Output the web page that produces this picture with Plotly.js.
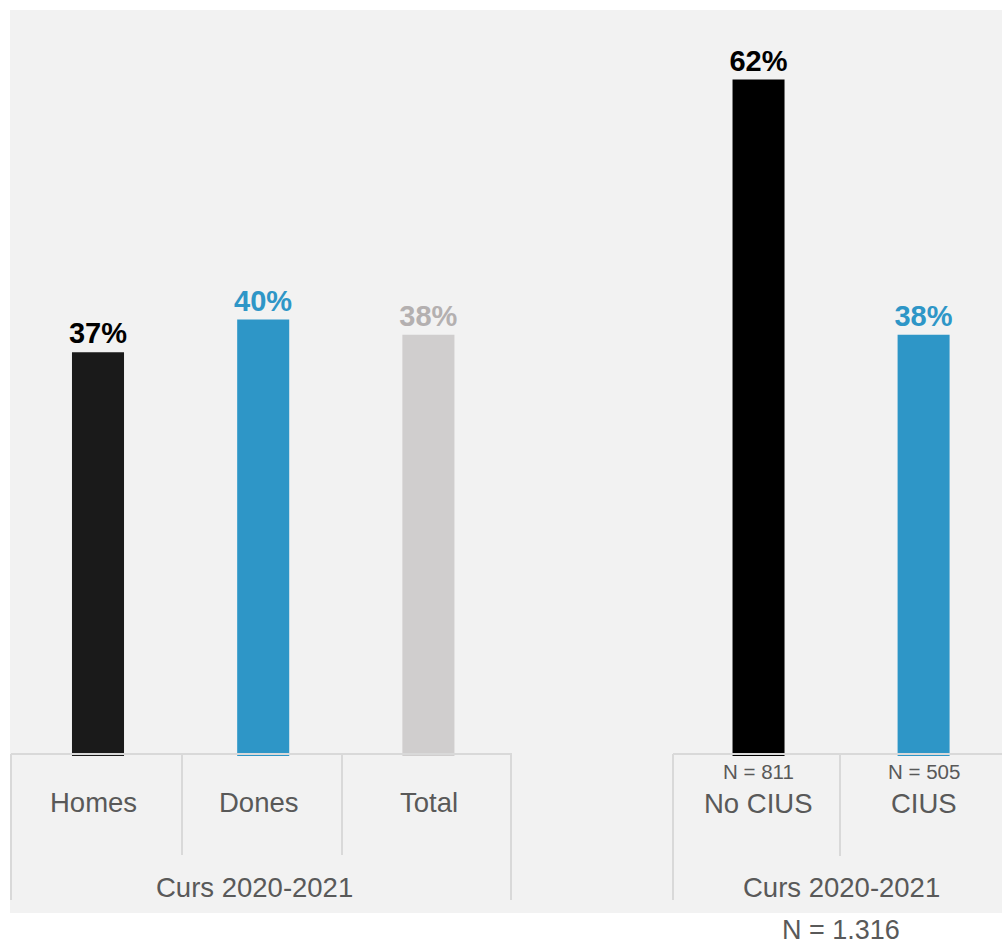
<!DOCTYPE html>
<html>
<head>
<meta charset="utf-8">
<script src="https://cdn.plot.ly/plotly-3.0.1.min.js"></script>
<style>
  html, body { margin: 0; padding: 0; background: #ffffff; }
  #chart { width: 1002px; height: 944px; }
</style>
</head>
<body>
<div id="chart"></div>
<script>
// ---- data ----
const categoriesLeft = ["Homes", "Dones", "Total"];
const valuesLeft = [37, 40, 38.6];
const labelsLeft = ["37%", "40%", "38%"];

const categoriesRight = ["No CIUS", "CIUS"];
const valuesRight = [62, 38.6];
const labelsRight = ["62%", "38%"];
const sampleRight = ["N = 811", "N = 505"];

const groupLabel = "Curs 2020-2021";
const totalN = "N = 1.316";

// ---- styles ----
const barColorsLeft = ["#1a1a1a", "#2e96c7", "#d0cece"];
const textColorsLeft = ["#000000", "#2e96c7", "#b4b0b0"];
const barColorsRight = ["#000000", "#2e96c7"];
const textColorsRight = ["#000000", "#2e96c7"];
const labelShiftLeft = [-5, -4, 1];

const W = 1002, H = 944;
const FONT = "Liberation Sans, Arial, sans-serif";
const GREY_TXT = "#595959";
const LINE = "#d9d9d9";
const py = p => 1 - p / H;   // pixel row -> paper y
const px = p => p / W;       // pixel col -> paper x

const traces = [
  {
    type: "bar", x: categoriesLeft, y: valuesLeft, text: labelsLeft,
    textposition: "outside", cliponaxis: false, constraintext: "none",
    textfont: { family: FONT, size: 29, color: textColorsLeft, weight: "bold" },
    marker: { color: barColorsLeft }, width: 0.315,
    xaxis: "x", yaxis: "y", hoverinfo: "skip"
  },
  {
    type: "bar", x: categoriesRight, y: valuesRight, text: labelsRight,
    textposition: "outside", cliponaxis: false, constraintext: "none",
    textfont: { family: FONT, size: 29, color: textColorsRight, weight: "bold" },
    marker: { color: barColorsRight }, width: 0.315,
    xaxis: "x2", yaxis: "y", hoverinfo: "skip"
  }
];

const annotations = [];
categoriesLeft.forEach((c, i) => annotations.push({
  xref: "x", yref: "paper", x: c, y: py(802), text: c, showarrow: false, xshift: labelShiftLeft[i],
  font: { family: FONT, size: 27.5, color: GREY_TXT }, yanchor: "middle"
}));
categoriesRight.forEach((c, i) => {
  annotations.push({
    xref: "x2", yref: "paper", x: c, y: py(803), text: c, showarrow: false,
    font: { family: FONT, size: 27.5, color: GREY_TXT }, yanchor: "middle"
  });
  annotations.push({
    xref: "x2", yref: "paper", x: c, y: py(771), text: sampleRight[i], showarrow: false,
    font: { family: FONT, size: 20.5, color: GREY_TXT }, yanchor: "middle"
  });
});
annotations.push({
  xref: "x", yref: "paper", x: (categoriesLeft.length - 1) / 2, y: py(887), text: groupLabel,
  xshift: -9,
  showarrow: false, font: { family: FONT, size: 27.5, color: GREY_TXT }, yanchor: "middle"
});
annotations.push({
  xref: "x2", yref: "paper", x: (categoriesRight.length - 1) / 2, y: py(887), text: groupLabel,
  showarrow: false, font: { family: FONT, size: 27.5, color: GREY_TXT }, yanchor: "middle"
});
annotations.push({
  xref: "x2", yref: "paper", x: (categoriesRight.length - 1) / 2, y: py(929.5), text: totalN,
  showarrow: false, font: { family: FONT, size: 27, color: GREY_TXT }, yanchor: "middle"
});

const lineStyle = { color: LINE, width: 2 };
const vline = (xref, x, y0p, y1p) => ({
  type: "line", xref: xref, yref: "paper", x0: x, x1: x, y0: py(y0p), y1: py(y1p),
  line: lineStyle, layer: "above"
});
const hline = (x0p, x1p, yp) => ({
  type: "line", xref: "paper", yref: "paper", x0: px(x0p), x1: px(x1p), y0: py(yp), y1: py(yp),
  line: lineStyle, layer: "above"
});
const shapes = [
  // grey background panel
  { type: "rect", xref: "paper", yref: "paper", x0: px(10), x1: 1, y0: py(913), y1: py(10),
    fillcolor: "#f2f2f2", line: { width: 0 }, layer: "below" },
  // left group frame
  hline(11, 512, 754),
  vline("paper", px(11), 754, 900),
  vline("paper", px(182), 754, 855),
  vline("paper", px(342), 754, 855),
  vline("paper", px(511), 754, 900),
  // right group frame
  hline(673, 1002, 754),
  vline("paper", px(673), 754, 900),
  vline("paper", px(840), 754, 856)
];

const axisCommon = {
  showgrid: false, zeroline: false, showline: false, showticklabels: false,
  ticks: "", fixedrange: true
};

const layout = {
  width: W, height: H,
  margin: { l: 0, r: 0, t: 0, b: 0, pad: 0 },
  paper_bgcolor: "#ffffff",
  plot_bgcolor: "rgba(0,0,0,0)",
  showlegend: false,
  xaxis: Object.assign({}, axisCommon, {
    type: "category", domain: [px(15.4), px(511)], range: [-0.5, 2.5], anchor: "y"
  }),
  xaxis2: Object.assign({}, axisCommon, {
    type: "category", domain: [px(676), 1], range: [-0.5, 1.475], anchor: "y"
  }),
  yaxis: Object.assign({}, axisCommon, {
    domain: [py(756), 1], range: [0, 756 / 10.91], anchor: "x"
  }),
  annotations: annotations,
  shapes: shapes
};

Plotly.newPlot("chart", traces, layout, { displayModeBar: false, staticPlot: true });
</script>
</body>
</html>
